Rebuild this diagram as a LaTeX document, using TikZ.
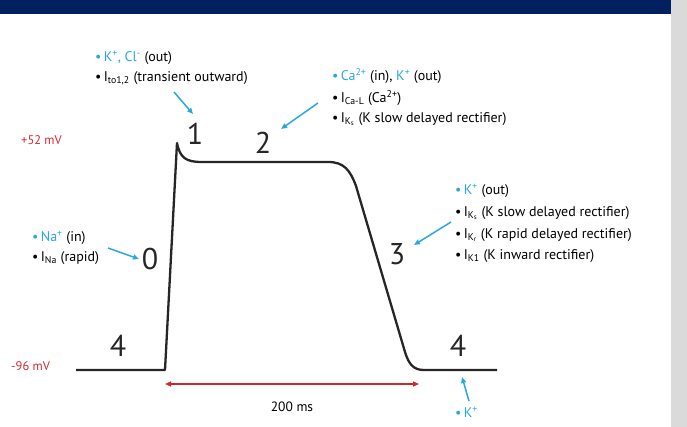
\documentclass[tikz,border=0pt]{standalone}
\usepackage{fontspec}
\setmainfont{PT Sans}
\usetikzlibrary{arrows.meta}
\definecolor{cblue}{HTML}{29A8E0}
\definecolor{cred}{HTML}{D6262D}
\definecolor{navy}{HTML}{002060}
\definecolor{gstrip}{HTML}{DADADA}
\newcommand{\bb}{\textcolor{cblue}{•}\,}
\newcommand{\kb}{•\,}
\begin{document}
\begin{tikzpicture}[x=1pt,y=-1pt,
  txt/.style={anchor=west,inner sep=0pt,font=\fontsize{14}{16}\selectfont},
  num/.style={inner sep=0pt,font=\fontsize{30}{32}\selectfont,text=black!85},
  mv/.style={inner sep=0pt,font=\fontsize{12.5}{14}\selectfont,text=cred},
  barrow/.style={cblue,line width=1.5pt,-{Triangle[length=6pt,width=5pt]}},
  trace/.style={black!85,line width=2.3pt,line join=round}]
\useasboundingbox (0,0) rectangle (687,427);
\fill[navy] (0,0) rectangle (671,14);
\fill[gstrip] (671,0) rectangle (687,427);
% trace
\draw[trace] (76,370) -- (165,370) -- (177,143)
  .. controls (180,158) and (186,162) .. (202,162) -- (328,162)
  .. controls (344,162) and (350,170) .. (356,186) -- (405,352)
  .. controls (409,365) and (414,370) .. (424,370) -- (497,370);
% numbers
\node[num] (n1) at (195,134) {1};
\node[num] (n2) at (263,143) {2};
\node[num] (n0) at (150,259) {0};
\node[num] (n3) at (397,254) {3};
\node[num] (n4a) at (118,346) {4};
\node[num] (n4b) at (458,346) {4};
% mV labels
\node[mv,anchor=west] (p52) at (21,140) {+52 mV};
\node[mv,anchor=west] (m96) at (11,366) {-96 mV};
% time arrow
\coordinate (tl) at (165,384);
\coordinate (tr) at (419,384);
\draw[cred,line width=1.2pt,{Triangle[length=6pt,width=5pt]}-{Triangle[length=6pt,width=5pt]}] (tl) -- (tr);
\node[inner sep=0pt,font=\fontsize{13.5}{15}\selectfont] (ms) at (292,407) {200 ms};
% block 1
\node[txt] (b1a) at (95,58) {\bb\textcolor{cblue}{K\textsuperscript{+}, Cl\textsuperscript{-}} (out)};
\node[txt] (b1b) at (95,78) {\kb I\textsubscript{to1,2} (transient outward)};
% block 2
\node[txt] (b2a) at (332,76) {\bb\textcolor{cblue}{Ca\textsuperscript{2+}} (in), \textcolor{cblue}{K\textsuperscript{+}} (out)};
\node[txt] (b2b) at (332,98) {\kb I\textsubscript{Ca-L} (Ca\textsuperscript{2+})};
\node[txt] (b2c) at (332,119) {\kb I\textsubscript{K\textsubscript{s}} (K slow delayed rectifier)};
% block 3
\node[txt] (b3a) at (455,191) {\bb\textcolor{cblue}{K\textsuperscript{+}} (out)};
\node[txt] (b3b) at (455,213) {\kb I\textsubscript{K\textsubscript{s}} (K slow delayed rectifier)};
\node[txt] (b3c) at (455,235) {\kb I\textsubscript{K\textsubscript{r}} (K rapid delayed rectifier)};
\node[txt] (b3d) at (455,256) {\kb I\textsubscript{K1} (K inward rectifier)};
% Na block
\node[txt] (b0a) at (32,238) {\bb\textcolor{cblue}{Na\textsuperscript{+}} (in)};
\node[txt] (b0b) at (32,258) {\kb I\textsubscript{Na} (rapid)};
% K+ bottom
\node[txt] (b4) at (455,412) {\bb\textcolor{cblue}{K\textsuperscript{+}}};
% blue arrows
\coordinate (a1s) at (174,92);  \coordinate (a1e) at (193,114);
\coordinate (a2s) at (318,103); \coordinate (a2e) at (281,129);
\coordinate (a0s) at (108,248); \coordinate (a0e) at (139,259);
\coordinate (a3s) at (451,222); \coordinate (a3e) at (414,245);
\coordinate (a4s) at (469,401); \coordinate (a4e) at (462,377);
\draw[barrow] (a1s) -- (a1e);
\draw[barrow] (a2s) -- (a2e);
\draw[barrow] (a0s) -- (a0e);
\draw[barrow] (a3s) -- (a3e);
\draw[barrow] (a4s) -- (a4e);
\end{tikzpicture}
\end{document}
